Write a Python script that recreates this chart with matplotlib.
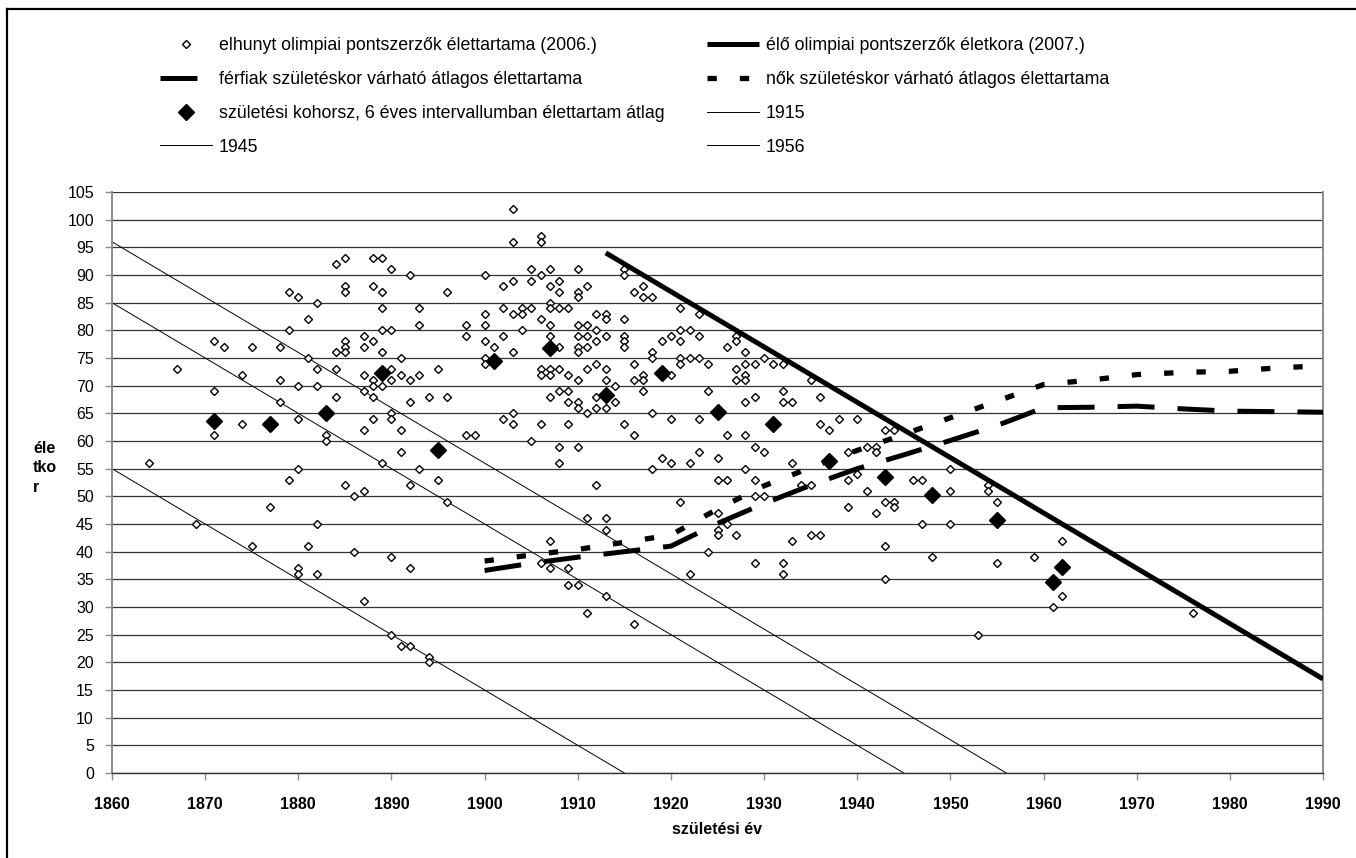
import matplotlib
matplotlib.use("Agg")
import matplotlib.pyplot as plt
from matplotlib.lines import Line2D

plt.rcParams['font.family'] = ['Liberation Sans', 'DejaVu Sans']
plt.rcParams['lines.scale_dashes'] = False

# ---- deceased Olympic medallists: birth year / age at death ----
dead_year = [
    1864, 1867, 1871, 1872, 1871, 1871, 1875, 1874, 1874, 1878, 1879, 1879, 1880, 1881, 1882,
    1881, 1882, 1878, 1880, 1882, 1878, 1880, 1884, 1884, 1884, 1885, 1885, 1885, 1884, 1885,
    1885, 1885, 1888, 1889, 1888, 1889, 1890, 1892, 1889, 1893, 1889, 1890, 1893, 1887, 1888,
    1887, 1889, 1891, 1887, 1888, 1888, 1889, 1890, 1890, 1891, 1892, 1893, 1895, 1887, 1888,
    1892, 1894, 1896, 1890, 1890, 1888, 1887, 1891, 1891, 1898, 1899, 1889, 1893, 1895, 1892,
    1885, 1887, 1886, 1879, 1880, 1883, 1883, 1896, 1900, 1898, 1898, 1900, 1900, 1900, 1901,
    1900, 1900,
    1896, 1877, 1869, 1882, 1875, 1881, 1886, 1890, 1892, 1880, 1880, 1882, 1887, 1890, 1891,
    1892, 1894, 1894,
    1903, 1903, 1906, 1906, 1905, 1907, 1910, 1906, 1905, 1908, 1903, 1902, 1907, 1911, 1908,
    1910, 1910, 1902, 1904, 1905, 1907, 1907, 1908, 1909, 1903, 1904, 1906, 1907, 1904, 1902,
    1907, 1903, 1908, 1910, 1911, 1910, 1911, 1912, 1912, 1913, 1913, 1912, 1913, 1910, 1911,
    1910, 1915, 1915, 1915, 1915, 1915, 1915, 1916, 1917, 1917, 1918, 1921, 1923, 1906, 1906,
    1907, 1907, 1908, 1909, 1910, 1911, 1912, 1913, 1913, 1914, 1912, 1908, 1909, 1907, 1909,
    1910, 1910, 1911, 1912, 1913, 1914, 1902, 1903, 1903, 1906, 1909, 1905, 1908, 1910, 1908,
    1912, 1915, 1916, 1916, 1916, 1917, 1917, 1917, 1918, 1918, 1919, 1920, 1921, 1922, 1921,
    1923, 1920, 1921, 1922, 1923, 1921, 1924, 1924, 1918, 1920, 1923, 1926, 1927, 1927, 1928,
    1928, 1929, 1927, 1928, 1928, 1927, 1930, 1931, 1932, 1928, 1929, 1932, 1932, 1933, 1926,
    1928, 1935, 1936, 1936, 1937, 1938, 1940, 1943, 1929, 1930, 1923, 1919, 1920, 1922, 1925,
    1918, 1928, 1933, 1925, 1926, 1929, 1939, 1941, 1942, 1942, 1939, 1940, 1934, 1935, 1941,
    1929, 1930,
    1921, 1911, 1913, 1913, 1907, 1906, 1907, 1909, 1909, 1910, 1913, 1911, 1916, 1925, 1925,
    1925, 1926, 1927, 1924, 1922, 1929, 1932, 1932, 1933, 1935, 1936, 1939, 1942, 1943, 1943,
    1943,
    1944, 1950, 1946, 1947, 1944, 1944, 1950, 1954, 1954, 1955, 1947, 1950, 1948, 1955, 1959,
    1962, 1962, 1961, 1953, 1976,
]
dead_age = [
    56, 73, 78, 77, 69, 61, 77, 72, 63, 77, 80, 87, 86, 82, 85,
    75, 73, 71, 70, 70, 67, 64, 68, 73, 76, 78, 77, 76, 92, 93,
    88, 87, 93, 93, 88, 87, 91, 90, 84, 84, 80, 80, 81, 79, 78,
    77, 76, 75, 72, 71, 70, 70, 73, 71, 72, 71, 72, 73, 69, 68,
    67, 68, 68, 65, 64, 64, 62, 62, 58, 61, 61, 56, 55, 53, 52,
    52, 51, 50, 53, 55, 61, 60, 87, 90, 81, 79, 83, 81, 78, 77,
    75, 74,
    49, 48, 45, 45, 41, 41, 40, 39, 37, 37, 36, 36, 31, 25, 23,
    23, 21, 20,
    102, 96, 97, 96, 91, 91, 91, 90, 89, 89, 89, 88, 88, 88, 87,
    87, 86, 84, 84, 84, 85, 84, 84, 84, 83, 83, 82, 81, 80, 79,
    79, 76, 77, 81, 81, 79, 79, 80, 78, 83, 82, 83, 79, 77, 77,
    76, 82, 79, 78, 77, 91, 90, 87, 88, 86, 86, 84, 83, 73, 72,
    73, 72, 73, 72, 71, 73, 74, 73, 71, 70, 68, 69, 69, 68, 67,
    67, 66, 65, 66, 66, 67, 64, 65, 63, 63, 63, 60, 59, 59, 56,
    52, 63, 61, 74, 71, 72, 71, 69, 76, 75, 78, 79, 80, 80, 78,
    79, 72, 75, 75, 75, 74, 74, 69, 65, 64, 64, 77, 79, 78, 76,
    74, 74, 73, 72, 71, 71, 75, 74, 74, 67, 68, 69, 67, 67, 61,
    61, 71, 68, 63, 62, 64, 64, 62, 59, 58, 58, 57, 56, 56, 57,
    55, 55, 56, 53, 53, 53, 58, 59, 59, 58, 53, 54, 52, 52, 51,
    50, 50,
    49, 46, 46, 44, 42, 38, 37, 37, 34, 34, 32, 29, 27, 47, 44,
    43, 45, 43, 40, 36, 38, 38, 36, 42, 43, 43, 48, 47, 49, 41,
    35,
    62, 55, 53, 53, 49, 48, 51, 52, 51, 49, 45, 45, 39, 38, 39,
    42, 32, 30, 25, 29,
]

# ---- living medallists (age in 2007) ----
alive_year = [1913, 1990]
alive_age = [94, 17]

# ---- life expectancy at birth ----
men_year = [1900, 1905, 1910, 1915, 1920, 1925, 1930, 1935, 1940, 1945, 1950, 1955, 1960,
            1965, 1970, 1975, 1980, 1985, 1990]
men_age = [36.6, 37.9, 39.0, 40.0, 41.0, 45.1, 48.7, 52.0, 55.0, 57.5, 60.1, 62.8, 66.0,
           66.1, 66.3, 65.8, 65.4, 65.3, 65.2]
women_year = [1900, 1905, 1910, 1915, 1920, 1925, 1930, 1935, 1940, 1945, 1950, 1955, 1960,
              1965, 1970, 1975, 1980, 1985, 1990]
women_age = [38.3, 39.4, 40.4, 41.7, 43.0, 47.7, 51.9, 55.2, 58.3, 61.2, 64.2, 67.2, 70.2,
             71.0, 72.0, 72.4, 72.6, 73.2, 73.6]

# ---- birth cohort averages (6-year intervals) ----
cohort_year = [1871, 1877, 1883, 1889, 1895, 1901, 1907, 1913, 1919, 1925, 1931, 1937, 1943,
               1948, 1955, 1961, 1962]
cohort_age = [63.7, 63.0, 65.0, 72.2, 58.3, 74.4, 76.8, 68.3, 72.3, 65.2, 63.1, 56.3, 53.5,
              50.3, 45.7, 34.6, 37.2]

# ---- death-year reference lines ----
line1915_year = [1860, 1915]
line1915_age = [55, 0]
line1945_year = [1860, 1945]
line1945_age = [85, 0]
line1956_year = [1860, 1956]
line1956_age = [96, 0]

labels = {
    'dead': 'elhunyt olimpiai pontszerzők élettartama (2006.)',
    'alive': 'élő olimpiai pontszerzők életkora (2007.)',
    'men': 'férfiak születéskor várható átlagos élettartama',
    'women': 'nők születéskor várható átlagos élettartama',
    'cohort': 'születési kohorsz, 6 éves intervallumban élettartam átlag',
    '1915': '1915', '1945': '1945', '1956': '1956',
}

W, H = 1356, 858
fig = plt.figure(figsize=(W / 100, H / 100), dpi=100)
ax = fig.add_axes([112 / W, 85 / H, 1211 / W, 581 / H])

ax.set_xlim(1860, 1990)
ax.set_ylim(0, 105)
ax.set_xticks(range(1860, 1991, 10))
ax.set_yticks(range(0, 106, 5))
ax.yaxis.grid(True, color='#333333', linewidth=0.9)
ax.set_axisbelow(True)
for s in ['left', 'right']:
    ax.spines[s].set_color('#8c8c8c')
    ax.spines[s].set_linewidth(1.4)
ax.spines['top'].set_visible(False)
ax.spines['bottom'].set_color('#333333')
ax.spines['bottom'].set_linewidth(1.0)
ax.tick_params(axis='y', direction='out', length=5, width=1, color='#8c8c8c',
               labelsize=11.5, pad=8)
ax.tick_params(axis='x', direction='out', length=5, width=1, color='#8c8c8c',
               labelsize=11.5, pad=12)
for t in ax.get_xticklabels():
    t.set_fontweight('bold')

h1915, = ax.plot(line1915_year, line1915_age, color='black', lw=0.7, label=labels['1915'])
h1945, = ax.plot(line1945_year, line1945_age, color='black', lw=0.7, label=labels['1945'])
h1956, = ax.plot(line1956_year, line1956_age, color='black', lw=0.7, label=labels['1956'])

h_dead, = ax.plot(dead_year, dead_age, linestyle='none', marker='D', markersize=4.3,
                  markerfacecolor='white', markeredgecolor='black', markeredgewidth=1.0,
                  label=labels['dead'], zorder=3)

h_men, = ax.plot(men_year, men_age, color='black', lw=3.6, dashes=(26.6, 16.6),
                 solid_capstyle='butt', dash_capstyle='butt', label=labels['men'], zorder=4)
h_women, = ax.plot(women_year, women_age, color='black', lw=3.8, dashes=(6.7, 16.6),
                   dash_capstyle='butt', label=labels['women'], zorder=4)
h_alive, = ax.plot(alive_year, alive_age, color='black', lw=3.6, solid_capstyle='butt',
                   label=labels['alive'], zorder=4)

h_cohort, = ax.plot(cohort_year, cohort_age, linestyle='none', marker='D', markersize=7.8,
                    color='black', label=labels['cohort'], zorder=5)

fig.legend(handles=[h_dead, h_men, h_cohort, h1945, h_alive, h_women, h1915, h1956],
           labels=[labels['dead'], labels['men'], labels['cohort'], labels['1945'],
                   labels['alive'], labels['women'], labels['1915'], labels['1956']],
           ncol=2, loc='upper left', bbox_to_anchor=(160 / W, 1 - 37 / H),
           frameon=False, fontsize=12.8, handlelength=2.9, handletextpad=0.4,
           columnspacing=2.4, labelspacing=0.95, borderpad=0, borderaxespad=0)

fig.text(33 / W, 1 - 468 / H, 'éle\ntko\nr', fontsize=11.5, fontweight='bold',
         ha='left', va='center', linespacing=1.35)
fig.text(717 / W, 1 - 830 / H, 'születési év', fontsize=11.5, fontweight='bold',
         ha='center', va='center')

# outer frame (top and left edges)
fig.add_artist(Line2D([7 / W, 1.0], [1 - 9 / H, 1 - 9 / H], transform=fig.transFigure,
                      color='black', lw=1.6))
fig.add_artist(Line2D([7 / W, 7 / W], [0, 1 - 9 / H], transform=fig.transFigure,
                      color='black', lw=1.6))

fig.savefig('out.png', dpi=100, facecolor='white')
